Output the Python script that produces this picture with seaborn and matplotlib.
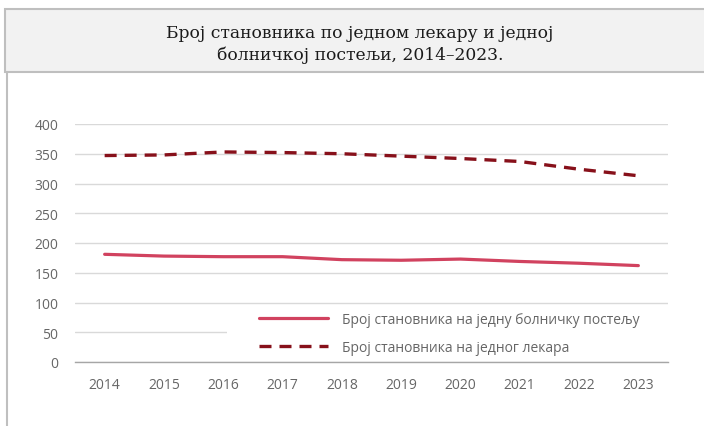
import matplotlib
matplotlib.use('Agg')
import matplotlib.pyplot as plt
import seaborn as sns
import pandas as pd
from matplotlib.patches import Rectangle
from matplotlib.lines import Line2D

years = ['2014', '2015', '2016', '2017', '2018', '2019', '2020', '2021', '2022', '2023']
po_postelji = [181, 178, 177, 177, 172, 171, 173, 169, 166, 162]
po_lekaru = [347, 348, 353, 352, 350, 346, 342, 337, 324, 313]

label_postelja = 'Број становника на једну болничку постељу'
label_lekar = 'Број становника на једног лекара'
title = 'Број становника по једном лекару и једној\nболничкој постељи, 2014–2023.'

df = pd.DataFrame({'x': range(len(years)), 'postelja': po_postelji, 'lekar': po_lekaru})

sns.set_style('white')
plt.rcParams['font.family'] = ['Open Sans', 'DejaVu Sans']

fig = plt.figure(figsize=(7.04, 4.27), dpi=100)
ax = fig.add_axes([75 / 704, 1 - 363 / 427, (668 - 75) / 704, (363 - 125) / 427])

# title box + left frame line
fig.patches.append(Rectangle((5 / 704, 1 - 73 / 427), 1, 63 / 427, transform=fig.transFigure,
                             facecolor='#f2f2f2', edgecolor='#bfbfbf', linewidth=1.5, zorder=0))
fig.lines.append(Line2D([7 / 704, 7 / 704], [0, 1 - 73 / 427], transform=fig.transFigure,
                        color='#bfbfbf', linewidth=1.5))
fig.text(360 / 704, 1 - 44.5 / 427, title, ha='center', va='center', fontsize=12.3,
         family=['DejaVu Serif'], color='#1a1a1a', linespacing=1.4)

red = '#d1425f'
dark = '#87101a'
sns.lineplot(data=df, x='x', y='postelja', ax=ax, color=red, linewidth=2.3, label=label_postelja)
sns.lineplot(data=df, x='x', y='lekar', ax=ax, color=dark, linewidth=2.4, linestyle=(0, (3.6, 2.4)),
             label=label_lekar)

ax.set_xlim(-0.5, len(years) - 0.5)
ax.set_ylim(0, 400)
ax.set_yticks(range(0, 401, 50))
ax.set_xticks(range(len(years)))
ax.set_xticklabels(years)
ax.set_xticks([i - 0.5 for i in range(len(years) + 1)], minor=True)
ax.tick_params(axis='x', which='major', length=0, pad=11, labelsize=10, labelcolor='#666666')
ax.tick_params(axis='x', which='minor', length=5, color='#a6a6a6', width=1, direction='out')
ax.tick_params(axis='y', length=0, pad=12, labelsize=10, labelcolor='#666666')
ax.set_xlabel('')
ax.set_ylabel('')
ax.yaxis.grid(True, color='#d9d9d9', linewidth=1)
ax.set_axisbelow(True)
for s in ['top', 'right', 'left']:
    ax.spines[s].set_visible(False)
ax.spines['bottom'].set_color('#a6a6a6')
ax.spines['bottom'].set_linewidth(1)

# white legend background that hides the grid behind it
ax.add_patch(Rectangle(((227 - 75) / 593, 4 / 238), (668 - 227) / 593, (358 - 307) / 238,
                       transform=ax.transAxes, facecolor='white', edgecolor='none', zorder=1))
leg = ax.legend(loc='upper left', bbox_to_anchor=((253 - 75) / 593, (363 - 307.5) / 238),
                frameon=False, fontsize=10, handlelength=5.0, handletextpad=1.0,
                labelspacing=0.92, borderaxespad=0)
for t in leg.get_texts():
    t.set_color('#666666')

fig.savefig('out.png', dpi=100)
